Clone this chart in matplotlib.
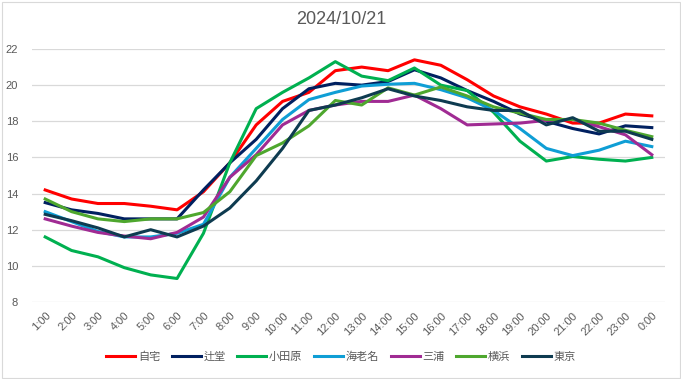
import matplotlib
matplotlib.use("Agg")
import matplotlib.pyplot as plt
from matplotlib.patches import Rectangle

plt.rcParams['font.family'] = ['Noto Sans CJK JP', 'DejaVu Sans']

title = "2024/10/21"
hours = ["1:00", "2:00", "3:00", "4:00", "5:00", "6:00", "7:00", "8:00", "9:00", "10:00",
         "11:00", "12:00", "13:00", "14:00", "15:00", "16:00", "17:00", "18:00", "19:00",
         "20:00", "21:00", "22:00", "23:00", "0:00"]

jitaku = [14.2, 13.7, 13.45, 13.45, 13.3, 13.1, 14.1, 15.7, 17.8, 19.1, 19.6, 20.8, 21.0, 20.8,
          21.4, 21.1, 20.3, 19.4, 18.8, 18.4, 17.9, 17.9, 18.4, 18.3]
tsujido = [13.5, 13.1, 12.9, 12.6, 12.6, 12.6, 14.2, 15.7, 17.0, 18.7, 19.8, 20.1, 20.0, 20.2,
           20.85, 20.4, 19.7, 19.1, 18.4, 18.0, 17.6, 17.3, 17.75, 17.65]
odawara = [11.6, 10.85, 10.5, 9.9, 9.5, 9.3, 11.8, 15.7, 18.7, 19.6, 20.4, 21.3, 20.5, 20.25,
           20.95, 20.0, 19.7, 18.5, 16.9, 15.8, 16.05, 15.9, 15.8, 16.0]
ebina = [13.0, 12.45, 11.9, 11.6, 11.6, 11.8, 12.3, 14.9, 16.5, 18.1, 19.2, 19.6, 19.95, 20.05,
         20.1, 19.75, 19.3, 18.6, 17.6, 16.5, 16.1, 16.4, 16.9, 16.6]
miura = [12.6, 12.2, 11.85, 11.65, 11.5, 11.85, 12.7, 14.9, 16.15, 17.8, 18.6, 18.9, 19.1, 19.1,
         19.45, 18.7, 17.8, 17.85, 17.9, 18.05, 18.1, 17.7, 17.25, 16.15]
yokohama = [13.7, 13.0, 12.6, 12.45, 12.6, 12.6, 12.95, 14.1, 16.1, 16.8, 17.75, 19.15, 18.9,
            19.85, 19.45, 19.9, 19.4, 18.8, 18.45, 18.1, 18.1, 17.9, 17.5, 17.15]
tokyo = [12.85, 12.5, 12.1, 11.6, 12.0, 11.6, 12.2, 13.2, 14.7, 16.5, 18.6, 18.9, 19.3, 19.8,
         19.4, 19.15, 18.8, 18.6, 18.6, 17.8, 18.2, 17.45, 17.45, 17.0]

series_names = ["自宅", "辻堂", "小田原", "海老名", "三浦", "横浜", "東京"]
series_values = [jitaku, tsujido, odawara, ebina, miura, yokohama, tokyo]
colors = ["#FF0000", "#002060", "#00B050", "#0F9ED5", "#A02B93", "#4EA72E", "#0E3B50"]

y_ticks = [8, 10, 12, 14, 16, 18, 20, 22]

W, H = 681, 379
fig = plt.figure(figsize=(W / 100, H / 100), dpi=100)
fig.patch.set_facecolor("white")
fig.add_artist(Rectangle((1.5 / W, 1.5 / H), 1 - 3 / W, 1 - 3 / H, transform=fig.transFigure,
                         fill=False, edgecolor="#D9D9D9", linewidth=0.8))

ax = fig.add_axes([32 / W, 1 - 302 / H, (665 - 32) / W, (302 - 49) / H])
x = list(range(len(hours)))
for name, vals, c in zip(series_names, series_values, colors):
    ax.plot(x, vals, color=c, linewidth=2.2, label=name, solid_joinstyle="round")

ax.set_xlim(-0.5, len(hours) - 0.5)
ax.set_ylim(8, 22)
ax.set_yticks(y_ticks)
ax.set_yticklabels([str(v) for v in y_ticks], family=["Liberation Sans"])
ax.set_xticks(x)
ax.set_xticklabels(hours, rotation=45, ha="right", va="top", rotation_mode="anchor",
                   family=["Liberation Sans"])
ax.tick_params(axis="both", length=0, colors="#595959", labelsize=8)
ax.tick_params(axis="y", pad=10)
ax.tick_params(axis="x", pad=6)
ax.grid(axis="y", color="#D9D9D9", linewidth=0.9)
ax.set_axisbelow(True)
for s in ax.spines.values():
    s.set_visible(False)

fig.text(341 / W, 1 - 20 / H, title, ha="center", va="center", fontsize=13, color="#595959",
         family=["Liberation Sans"])

leg = fig.legend(loc="center", bbox_to_anchor=(341 / W, 1 - 357 / H), ncol=7, frameon=False,
                 fontsize=8, handlelength=2.6, handletextpad=0.25, columnspacing=1.05)
for t in leg.get_texts():
    t.set_color("#595959")

fig.savefig("out.png", dpi=100)
